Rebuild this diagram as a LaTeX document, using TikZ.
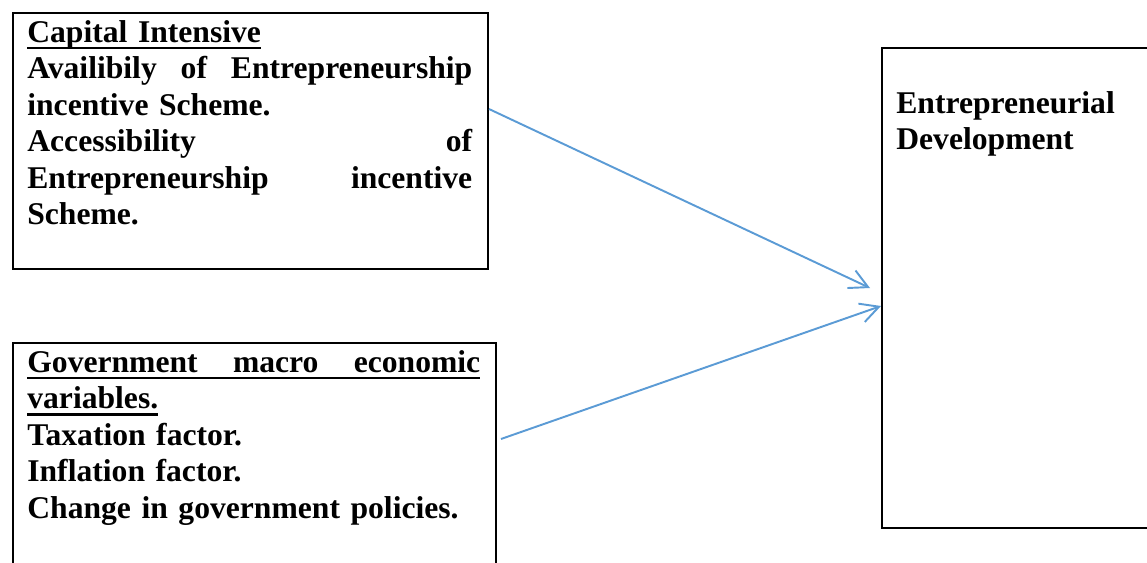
\documentclass[tikz,border=0pt]{standalone}
\usepackage{fontspec}
\setmainfont{Liberation Serif}
\usetikzlibrary{arrows.meta}

\definecolor{arrowblue}{RGB}{91,155,213}

% underline at a fixed depth, as a word processor draws it
\newcommand{\wordline}[1]{\leavevmode\setbox0\hbox{#1}\rlap{\rule[-4pt]{\wd0}{1.3pt}}\box0}

\begin{document}
\begin{tikzpicture}[x=0.02cm, y=-0.02cm,
    frame/.style={draw, line width=1.2pt, inner sep=0pt, anchor=north west},
    txt/.style={anchor=base west, inner sep=0pt, align=left,
        font=\fontsize{18pt}{20.8pt}\selectfont\bfseries},
    flow/.style={-{Straight Barb[length=10.5pt, width=11pt]}, arrowblue, line width=1.1pt}]

    % --- 1. Page size and clipping (boxes run off the edge) ---
    \useasboundingbox (0,0) rectangle (1147,562);
    \clip (0,0) rectangle (1147,562);

    % --- 2. The three frames ---
    \node[frame, minimum width=9.5cm, minimum height=5.12cm] (capital) at (12,12) {};
    \node[frame, minimum width=9.66cm, minimum height=5.4cm] (macro) at (12,342) {};
    \node[frame, minimum width=6.6cm, minimum height=9.6cm] (devel) at (881,47) {};

    % --- 3. Text in the frames ---
    \node[txt, text width=8.9cm] (capitaltext) at (27,42) {%
        \wordline{Capital Intensive}\\
        Availibily\hfill of\hfill Entrepreneurship\\
        incentive Scheme.\\
        Accessibility\hfill of\\
        Entrepreneurship\hfill incentive\\
        Scheme.};

    \node[txt, text width=9.06cm] (macrotext) at (27,372) {%
        \wordline{\hbox to\hsize{Government\hfill macro\hfill economic}}\\
        \wordline{variables.}\\
        Taxation factor.\\
        Inflation factor.\\
        Change in government policies.};

    \node[txt, text width=5cm] (develtext) at (896,113) {%
        Entrepreneurial\\
        Development};

    % --- 4. Arrows into the development box ---
    \coordinate (capital out) at (489,109);
    \coordinate (macro out) at (501,439);
    \coordinate (devel in1) at (870,288);
    \coordinate (devel in2) at (881,306);

    \draw[flow] (capital out) -- (devel in1);
    \draw[flow] (macro out) -- (devel in2);

\end{tikzpicture}
\end{document}
